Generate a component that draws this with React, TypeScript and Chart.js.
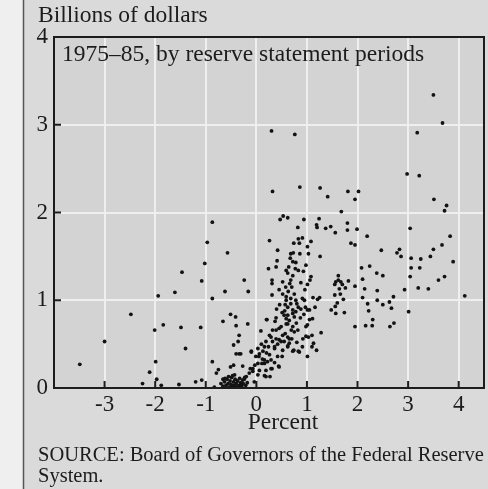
import { useEffect, useRef } from "react";
import { Chart, registerables } from "chart.js";

Chart.register(...registerables);

const SERIF = "'Liberation Serif', 'DejaVu Serif', serif";

// Axis ticks
const xTickValues = [-4, -3, -2, -1, 0, 1, 2, 3, 4];
const yTickValues = [0, 1, 2, 3, 4];

// Texts
const unitLabel = "Billions of dollars";
const panelLabel = "1975–85, by reserve statement periods";
const xAxisLabel = "Percent";
const sourceLines = ["SOURCE: Board of Governors of the Federal Reserve", "System."];

// Data: [percent, billions of dollars]
const sparseLeft: number[][] = [
  [-0.87, 1.89], [-0.97, 1.66], [-1.02, 1.42], [-1.47, 1.32], [-1.08, 1.22], [-1.61, 1.09],
  [-1.94, 1.05], [-0.87, 1.02], [-2.48, 0.84], [-1.84, 0.72], [-2.01, 0.66], [-1.49, 0.69],
  [-1.10, 0.69], [-3.0, 0.53], [-1.40, 0.45], [-3.49, 0.27], [-1.99, 0.30], [-0.87, 0.30],
  [-2.11, 0.18], [-1.97, 0.10], [-1.88, 0.03], [-1.53, 0.04], [-1.20, 0.07], [-1.08, 0.09],
  [-2.25, 0.05], [-0.57, 1.54], [-0.24, 1.23], [-0.62, 1.10], [-0.16, 1.10], [-0.51, 0.84],
  [-0.41, 0.81], [-0.66, 0.76], [-0.40, 0.71], [-0.17, 0.73], [-0.34, 0.60], [-0.36, 0.53],
  [-0.45, 0.49], [-0.40, 0.39], [-0.31, 0.39], [-0.10, 0.42], [-0.45, 0.26], [-0.51, 0.24],
  [-0.75, 0.21], [-0.79, 0.17], [-0.27, 0.25], [-0.12, 0.22], [-0.03, 0.26], [-0.07, 0.19],
  [-0.23, 0.12], [-0.47, 0.14], [-0.66, 0.10], [-0.83, 0.01], [-0.34, 0.39], [-0.10, 0.41],
  [-0.14, 0.17], [-0.07, 0.22], [-0.20, 0.13], [-0.27, 0.09], [-0.30, 0.03], [-0.04, 0.07],
];

const bottomCluster: number[][] = [
  [-0.70, 0.05], [-0.66, 0.02], [-0.63, 0.07], [-0.60, 0.03], [-0.58, 0.10], [-0.56, 0.05],
  [-0.54, 0.01], [-0.52, 0.08], [-0.50, 0.04], [-0.49, 0.12], [-0.47, 0.02], [-0.45, 0.07],
  [-0.44, 0.03], [-0.42, 0.10], [-0.40, 0.05], [-0.39, 0.01], [-0.37, 0.08], [-0.35, 0.03],
  [-0.33, 0.11], [-0.31, 0.06], [-0.29, 0.02], [-0.26, 0.05], [-0.24, 0.10], [-0.21, 0.03],
  [-0.55, 0.13], [-0.43, 0.15], [-0.62, 0.11], [-0.18, 0.06], [-0.52, 0.00], [-0.36, 0.00],
];

const ridge: number[][] = [
  [0.53, 1.96], [0.47, 1.92], [0.62, 1.94], [0.94, 1.92], [1.24, 1.93], [1.19, 1.86],
  [1.20, 1.83], [0.82, 1.83], [0.26, 1.68], [0.83, 1.70], [0.91, 1.71], [0.74, 1.65],
  [0.85, 1.65], [1.08, 1.67], [1.01, 1.61], [0.42, 1.57], [0.68, 1.53], [0.73, 1.54],
  [0.86, 1.53], [1.03, 1.53], [1.26, 1.50], [0.67, 1.48], [0.41, 1.45], [0.72, 1.44],
  [0.78, 1.43], [0.24, 1.36], [0.39, 1.38], [0.64, 1.38], [0.59, 1.34], [0.62, 1.31],
  [0.77, 1.36], [0.83, 1.34], [0.93, 1.33], [0.98, 1.40], [0.72, 1.28], [0.68, 1.23],
  [1.06, 1.23], [0.31, 1.23], [0.31, 1.19], [0.52, 1.21], [0.31, 1.06], [0.52, 1.07],
  [0.59, 1.00], [0.68, 1.02], [0.80, 0.96], [0.91, 1.02], [0.95, 1.00], [0.97, 0.92],
  [1.05, 0.89], [1.01, 0.89], [0.88, 0.90], [1.21, 1.01], [1.25, 1.03], [1.12, 1.03],
  [1.16, 0.92], [1.11, 0.79], [1.05, 0.78], [0.98, 0.70], [1.01, 0.72], [1.28, 0.63],
  [1.10, 0.60], [0.98, 0.59], [1.03, 0.58], [1.13, 0.51], [1.10, 0.47], [1.19, 0.43],
  [1.01, 0.36], [0.91, 0.47], [0.85, 0.41], [0.74, 0.43], [0.51, 0.36], [0.62, 0.48],
  [0.65, 0.51], [0.49, 0.53], [0.42, 0.50], [0.36, 0.47], [0.24, 0.47], [0.19, 0.53],
  [0.29, 0.58], [0.39, 0.56], [0.52, 0.60], [0.62, 0.58], [0.75, 0.64], [0.72, 0.70],
  [0.62, 0.73], [0.65, 0.77], [0.59, 0.79], [0.55, 0.83], [0.51, 0.86], [0.62, 0.83],
  [0.75, 0.81], [0.78, 0.87], [0.72, 0.89], [0.83, 0.92], [0.39, 0.80], [0.37, 0.76],
  [0.20, 0.78], [0.45, 0.68], [0.32, 0.66], [0.09, 0.65], [-0.01, 0.36], [0.06, 0.39],
  [0.12, 0.33], [0.03, 0.28], [0.16, 0.28], [0.26, 0.38], [0.29, 0.32], [0.36, 0.29],
  [0.44, 0.25], [0.31, 0.22], [0.19, 0.20], [0.06, 0.20], [0.03, 0.15], [0.16, 0.14],
  [0.27, 0.13], [0.21, 0.78], [0.03, 0.45], [0.16, 0.47], [0.05, 0.36], [0.16, 0.32],
  [0.22, 0.30], [0.11, 0.28], [0.29, 0.22], [0.19, 0.13], [0.45, 0.24], [0.42, 0.36],
  [0.36, 0.45], [0.52, 0.43], [0.62, 0.47], [0.72, 0.42], [0.83, 0.42], [0.32, 0.53],
  [0.45, 0.55], [0.55, 0.53], [0.65, 0.56], [0.26, 0.60], [0.39, 0.66], [0.49, 0.70],
  [0.59, 0.73], [0.72, 0.85], [0.62, 0.92], [0.68, 0.96], [0.78, 1.00], [0.59, 1.04],
  [0.75, 1.07], [0.57, 0.95], [0.63, 1.10], [0.70, 1.15], [0.66, 1.19], [0.58, 1.15],
  [0.56, 0.88], [0.69, 0.66], [0.57, 0.62], [0.79, 0.74], [0.87, 0.80], [0.94, 0.84],
  [0.92, 0.56], [0.96, 1.12], [0.88, 1.20], [1.01, 1.18], [1.08, 1.27], [0.46, 0.95],
  [0.45, 1.12], [0.40, 0.90], [0.82, 0.66], [0.70, 0.56], [0.80, 0.52], [0.20, 0.40],
  [0.10, 0.50], [0.13, 0.42],
];

const sparseRight: number[][] = [
  [3.50, 3.34], [3.68, 3.02], [3.18, 2.91], [0.30, 2.93], [0.76, 2.89], [2.98, 2.44],
  [3.22, 2.42], [0.32, 2.24], [0.86, 2.29], [1.26, 2.28], [1.41, 2.18], [1.81, 2.24],
  [2.02, 2.24], [1.95, 2.15], [3.51, 2.15], [3.76, 2.08], [3.72, 2.02], [1.68, 2.01],
  [1.37, 1.82], [1.47, 1.84], [1.56, 1.77], [1.80, 1.88], [1.80, 1.80], [1.99, 1.81],
  [2.19, 1.73], [3.04, 1.82], [3.83, 1.73], [1.87, 1.65], [1.95, 1.63], [2.47, 1.57],
  [3.50, 1.58], [2.78, 1.54], [2.83, 1.58], [2.86, 1.50], [3.67, 1.63], [3.06, 1.48],
  [3.25, 1.47], [3.44, 1.50], [3.89, 1.44], [2.08, 1.37], [2.24, 1.39], [2.38, 1.31],
  [2.50, 1.28], [3.06, 1.37], [3.23, 1.37], [3.04, 1.27], [2.10, 1.24], [3.72, 1.27],
  [3.60, 1.23], [1.62, 1.28], [1.62, 1.23], [1.57, 1.21], [1.67, 1.21], [1.55, 1.18],
  [1.64, 1.13], [1.76, 1.14], [1.82, 1.22], [1.70, 1.18], [1.95, 1.16], [1.55, 1.06],
  [1.66, 1.07], [1.72, 1.01], [1.60, 0.97], [1.56, 0.93], [1.48, 0.89], [1.57, 0.85],
  [1.74, 0.86], [2.14, 1.13], [2.10, 1.03], [2.20, 0.96], [2.22, 0.88], [2.39, 1.11],
  [2.39, 1.00], [2.50, 0.95], [2.63, 0.98], [2.67, 0.91], [2.71, 1.04], [2.93, 1.12],
  [3.20, 1.14], [3.40, 1.13], [3.01, 0.87], [4.12, 1.05], [2.30, 0.78], [2.16, 0.71],
  [2.29, 0.71], [1.95, 0.70], [2.64, 0.70], [2.72, 0.74],
];

const allPoints = [...sparseLeft, ...bottomCluster, ...ridge, ...sparseRight];

const INK = "#1c1c1c";

const decorPlugin = {
  id: "decor",
  beforeDraw(chart: any) {
    const { ctx, width, height, chartArea: a } = chart;
    ctx.save();
    ctx.fillStyle = "#dadada";
    ctx.fillRect(0, 0, width, height);
    ctx.fillStyle = "#efefef";
    ctx.fillRect(0, 0, 23, height);
    ctx.strokeStyle = "#555";
    ctx.lineWidth = 1.5;
    ctx.beginPath();
    ctx.moveTo(23.5, 0);
    ctx.lineTo(23.5, height);
    ctx.stroke();
    ctx.fillStyle = "#d3d3d3";
    ctx.fillRect(a.left, a.top, a.right - a.left, a.bottom - a.top);
    ctx.restore();
  },
  afterDatasetsDraw(chart: any) {
    const { ctx, chartArea: a, scales } = chart;
    ctx.save();
    ctx.strokeStyle = INK;
    ctx.lineWidth = 2;
    ctx.strokeRect(a.left, a.top, a.right - a.left, a.bottom - a.top);
    ctx.beginPath();
    for (const v of yTickValues) {
      if (v === 0 || v === 4) continue;
      const py = scales.y.getPixelForValue(v);
      ctx.moveTo(a.left, py);
      ctx.lineTo(a.left + 7, py);
    }
    for (const v of xTickValues) {
      if (v === -4) continue;
      const px = scales.x.getPixelForValue(v);
      ctx.moveTo(px, a.bottom);
      ctx.lineTo(px, a.bottom - 7);
    }
    ctx.stroke();
    ctx.fillStyle = INK;
    ctx.textBaseline = "alphabetic";
    ctx.textAlign = "left";
    ctx.font = `23.5px ${SERIF}`;
    ctx.fillText(unitLabel, 38, 22);
    ctx.fillText(panelLabel, 62, 61);
    ctx.textAlign = "center";
    ctx.fillText(xAxisLabel, 283, 429);
    ctx.textAlign = "left";
    ctx.font = `20.5px ${SERIF}`;
    ctx.fillText(sourceLines[0], 38, 461);
    ctx.fillText(sourceLines[1], 38, 482);
    ctx.restore();
  },
};

export default function App() {
  const ref = useRef<HTMLCanvasElement>(null);
  useEffect(() => {
    document.body.style.margin = "0";
    const canvas = ref.current!;
    const chart = new Chart(canvas, {
      type: "scatter",
      data: {
        datasets: [
          {
            data: allPoints.map(([x, y]) => ({ x, y })),
            pointRadius: 1.9,
            pointBackgroundColor: "#121212",
            pointBorderWidth: 0,
            pointHoverRadius: 1.9,
          },
        ],
      },
      options: {
        responsive: false,
        animation: false,
        events: [],
        layout: { padding: { top: 37, right: 4, left: 0, bottom: 0 } },
        plugins: { legend: { display: false }, tooltip: { enabled: false } },
        scales: {
          x: {
            type: "linear",
            min: -4,
            max: 4.5,
            afterFit: (s: any) => {
              s.height = 101;
            },
            afterBuildTicks: (s: any) => {
              s.ticks = xTickValues.map((value) => ({ value }));
            },
            grid: { color: "#efefef", lineWidth: 2, drawTicks: false },
            border: { display: false },
            ticks: {
              padding: 3,
              color: INK,
              font: { family: SERIF, size: 23 },
              callback: (v: any) => (v === -4 ? "" : String(v)),
            },
          },
          y: {
            type: "linear",
            min: 0,
            max: 4,
            afterFit: (s: any) => {
              s.width = 54;
            },
            afterBuildTicks: (s: any) => {
              s.ticks = yTickValues.map((value) => ({ value }));
            },
            grid: { color: "#efefef", lineWidth: 2, drawTicks: false },
            border: { display: false },
            ticks: {
              padding: 6,
              color: INK,
              font: { family: SERIF, size: 23 },
              callback: (v: any) => String(v),
            },
          },
        },
      },
      plugins: [decorPlugin],
    });
    return () => chart.destroy();
  }, []);
  return <canvas ref={ref} width={488} height={489} style={{ display: "block" }} />;
}
